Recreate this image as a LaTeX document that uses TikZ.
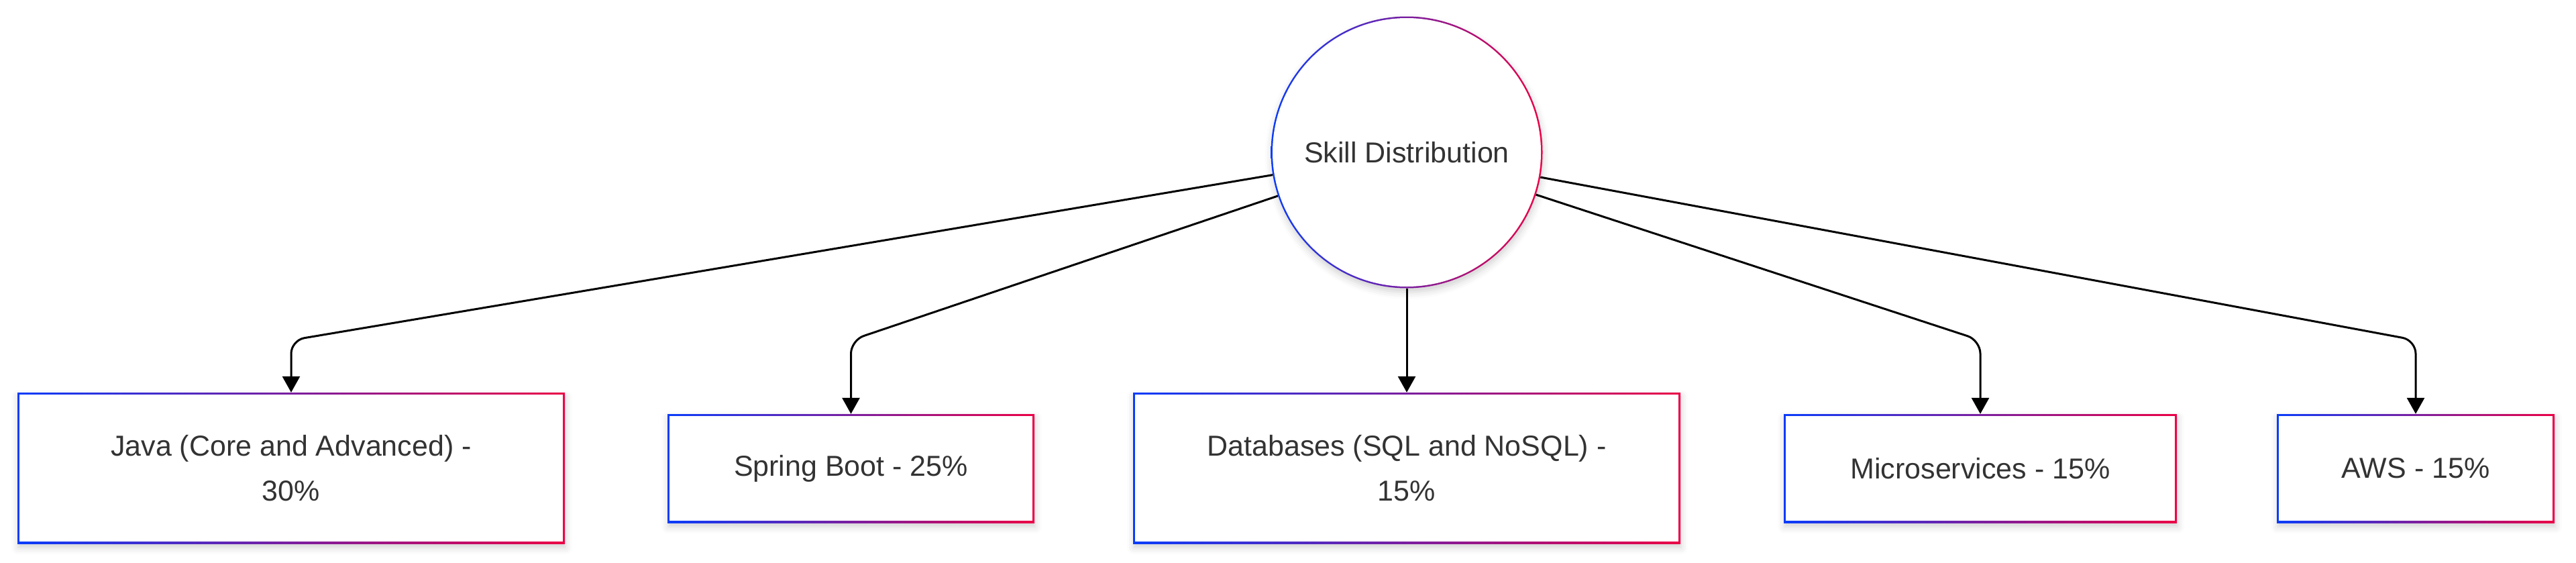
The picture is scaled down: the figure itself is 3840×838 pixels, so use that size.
\documentclass[tikz,border=0pt]{standalone}
\usepackage{fontspec}
\setmainfont{Liberation Sans}
\usetikzlibrary{arrows.meta,shadows.blur}
\definecolor{gblue}{RGB}{10,60,250}
\definecolor{gred}{RGB}{235,0,70}
\definecolor{txt}{RGB}{51,51,51}
\begin{document}
\begin{tikzpicture}[x=1pt,y=-1pt,
  every node/.style={text=txt, font=\fontsize{43pt}{67pt}\selectfont, align=center, inner sep=0pt},
  softshadow/.style={blur shadow={shadow xshift=1pt, shadow yshift=-6pt, shadow blur radius=10pt, shadow opacity=18}},
  gbox/.style={rectangle, left color=gblue, right color=gred, softshadow,
    path picture={\fill[white] ([shift={(3pt,3pt)}]path picture bounding box.south west) rectangle ([shift={(-3pt,-3pt)}]path picture bounding box.north east);}},
  gcirc/.style={circle, minimum size=405pt, left color=gblue, right color=gred, softshadow,
    path picture={\fill[white] (path picture bounding box.center) circle[radius=200pt];}},
  conn/.style={draw=black, line width=3pt, rounded corners=20pt, -{Triangle[width=26pt,length=24pt]}}
]
\useasboundingbox (0,0) rectangle (3840,838);
\node[gcirc] (c) at (2097,227) {Skill Distribution};
\node[gbox, minimum width=816pt, minimum height=225pt] (java) at (434,697.5) {Java (Core and Advanced) -\\30\%};
\node[gbox, minimum width=547pt, minimum height=162pt] (spring) at (1268.5,698) {Spring Boot - 25\%};
\node[gbox, minimum width=816pt, minimum height=225pt] (db) at (2097,697.5) {Databases (SQL and NoSQL) -\\15\%};
\node[gbox, minimum width=586pt, minimum height=162pt] (micro) at (2952,698) {Microservices - 15\%};
\node[gbox, minimum width=414pt, minimum height=162pt] (aws) at (3601,698) {AWS - 15\%};
\coordinate (bend) at (0,507);
\draw[conn] (c) -- (java.north |- bend) -- (java.north);
\draw[conn] (c) -- (spring.north |- bend) -- (spring.north);
\draw[conn] (c) -- (db.north);
\draw[conn] (c) -- (micro.north |- bend) -- (micro.north);
\draw[conn] (c) -- (aws.north |- bend) -- (aws.north);
\end{tikzpicture}
\end{document}
